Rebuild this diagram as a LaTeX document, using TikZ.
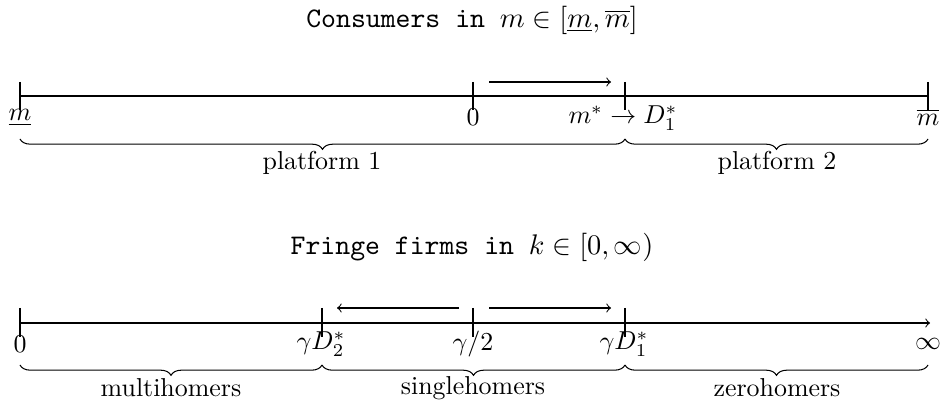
\documentclass[tikz,border=0pt]{standalone}
\usetikzlibrary{decorations.pathreplacing}
\begin{document}
\begin{tikzpicture}[x=0.3861pt,y=-0.3861pt,
  axis/.style={line width=0.4pt},
  tick/.style={line width=0.4pt},
  mv/.style={->,line width=0.4pt,>=to},
  brc/.style={decorate,decoration={brace,mirror,amplitude=4pt},line width=0.4pt},
  ttl/.style={inner sep=0pt,font=\fontsize{10.95}{13}\selectfont},
  lab/.style={inner sep=0pt}]
\useasboundingbox (0,0) rectangle (944,405);
% titles
\node[ttl] (t1) at (472,20) {\texttt{Consumers in }$m\in[\underline{m},\overline{m}]$};
\node[ttl] (t2) at (472,247) {\texttt{Fringe firms in }$k\in[0,\infty)$};
% top axis
\coordinate (a0) at (20,96);
\coordinate (a1) at (473,96);
\coordinate (a2) at (625,96);
\coordinate (a3) at (928,96);
\draw[axis] (a0) -- (a3);
\foreach \x in {20,473,625,928} \draw[tick] (\x,82) -- (\x,110);
\node[lab] (l0) at (20,118) {$\underline{m}$};
\node[lab] (l1) at (473,117) {$0$};
\node[lab] (l2) at (623,118) {$m^*\to D_1^*$};
\node[lab] (l3) at (928,117) {$\overline{m}$};
\coordinate (ar1s) at (489,82);
\coordinate (ar1e) at (611,82);
\draw[mv] (ar1s) -- (ar1e);
\coordinate (b0) at (20,139);
\coordinate (b1) at (625,139);
\coordinate (b2) at (928,139);
\draw[brc] (b0) -- (b1);
\draw[brc] (b1) -- (b2);
\node[lab] (p1) at (322,163) {platform 1};
\node[lab] (p2) at (777,163) {platform 2};
% bottom axis
\coordinate (c0) at (20,323);
\coordinate (c1) at (322,323);
\coordinate (c2) at (473,323);
\coordinate (c3) at (625,323);
\coordinate (c4) at (930,323);
\draw[axis,->,>=to] (c0) -- (c4);
\foreach \x in {20,322,473,625} \draw[tick] (\x,308) -- (\x,337);
\node[lab] (m0) at (20,344) {$0$};
\node[lab] (m1) at (321,344) {$\gamma D_2^*$};
\node[lab] (m2) at (473,344) {$\gamma/2$};
\node[lab] (m3) at (624,344) {$\gamma D_1^*$};
\node[lab] (m4) at (928,344) {$\infty$};
\coordinate (ar2s) at (459,308);
\coordinate (ar2e) at (337,308);
\coordinate (ar3s) at (489,308);
\coordinate (ar3e) at (611,308);
\draw[mv] (ar2s) -- (ar2e);
\draw[mv] (ar3s) -- (ar3e);
\coordinate (d0) at (20,365);
\coordinate (d1) at (322,365);
\coordinate (d2) at (625,365);
\coordinate (d3) at (928,365);
\draw[brc] (d0) -- (d1);
\draw[brc] (d1) -- (d2);
\draw[brc] (d2) -- (d3);
\node[lab] (h1) at (171,388) {multihomers};
\node[lab] (h2) at (473,388) {singlehomers};
\node[lab] (h3) at (777,388) {zerohomers};
\end{tikzpicture}
\end{document}
